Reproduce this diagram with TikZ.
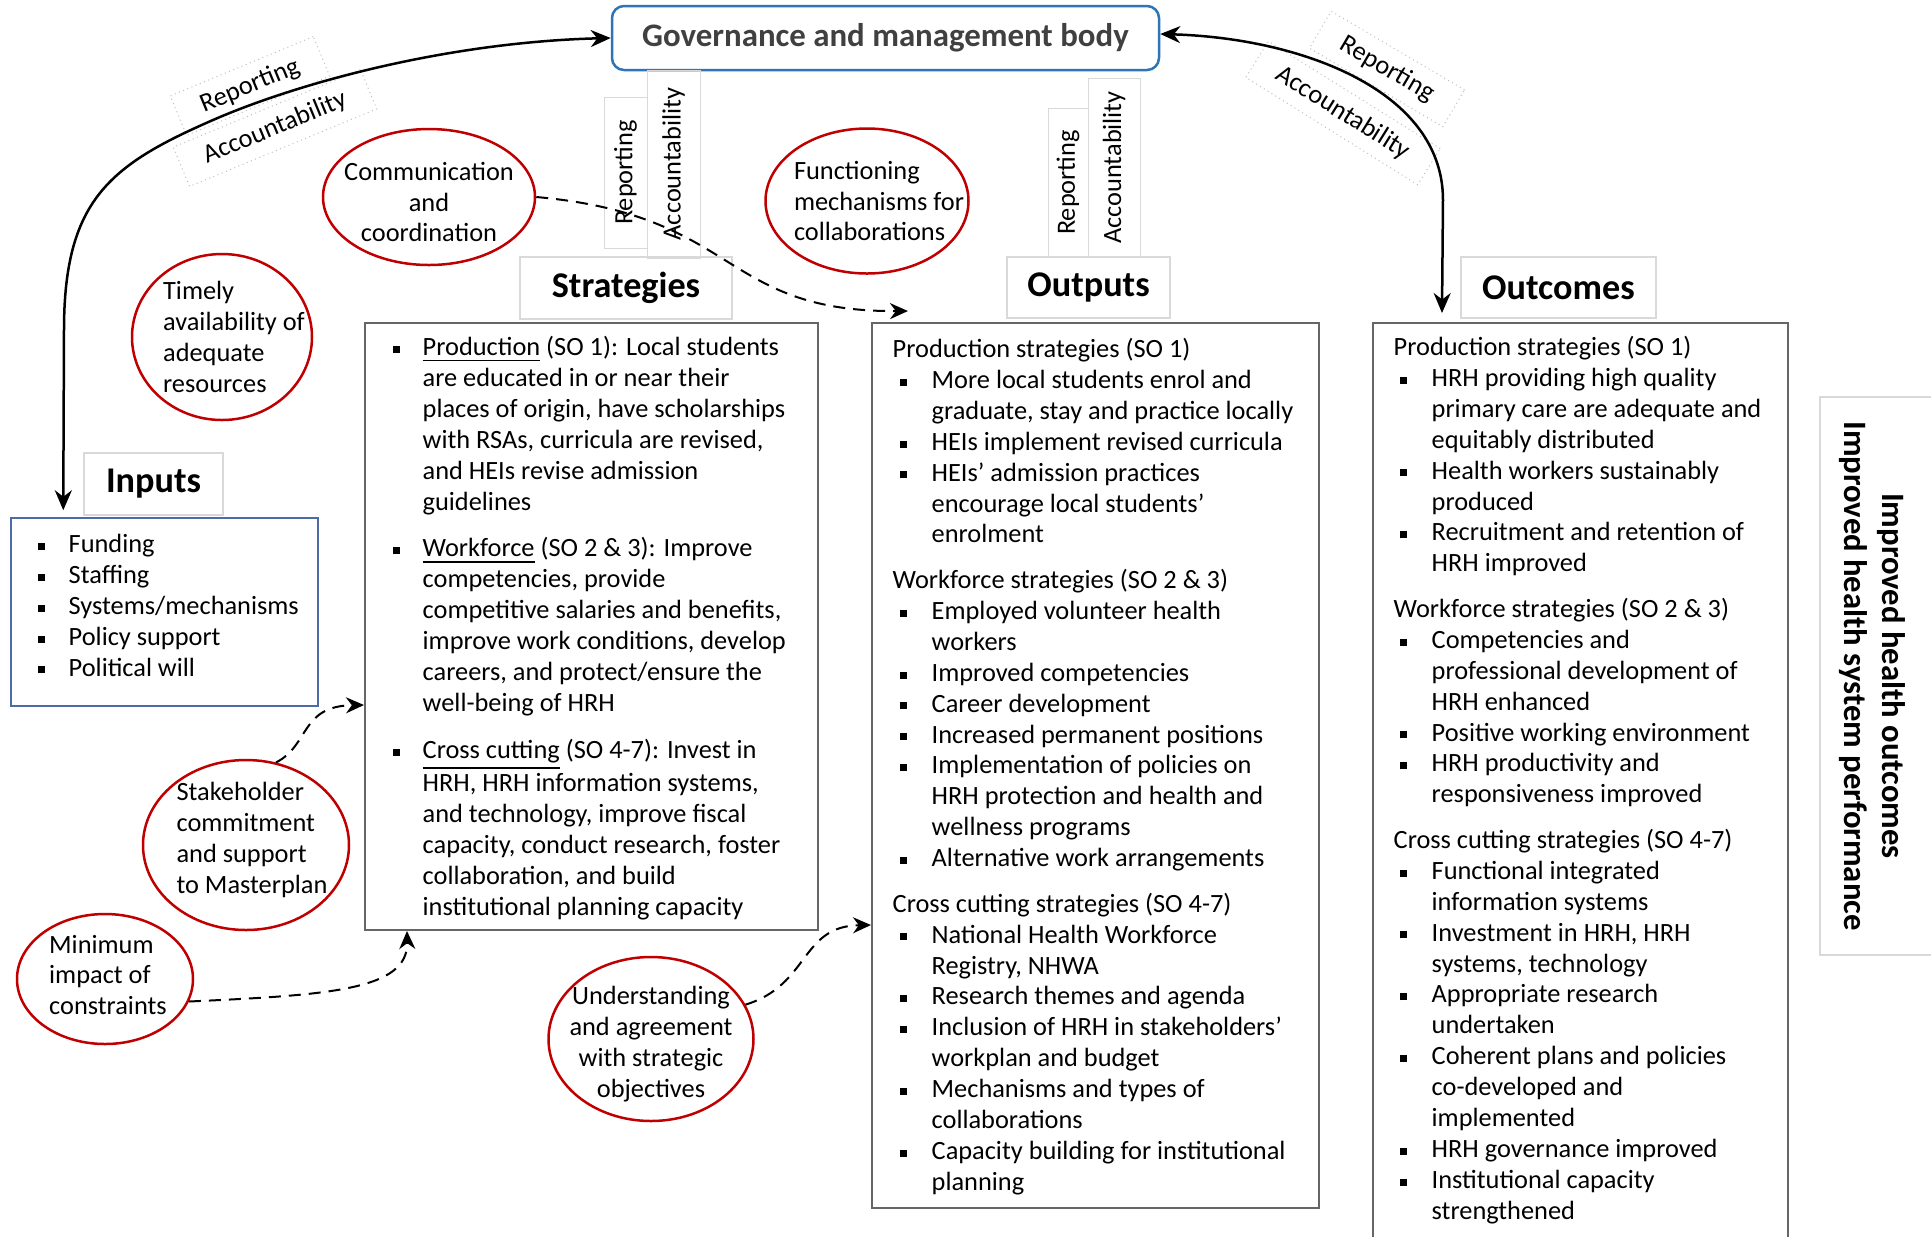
\documentclass[tikz,border=0pt]{standalone}
\usepackage{fontspec}
\setmainfont{Carlito}
\usetikzlibrary{arrows.meta,shapes.geometric}
\definecolor{govblue}{HTML}{2E75B6}
\definecolor{ovalred}{HTML}{C00000}
\definecolor{inpblue}{HTML}{4F6BA5}
\newcommand{\bodyfont}{\fontsize{7.5}{8.8}\selectfont}
\newcommand{\bsq}{\rule[0.75pt]{0.7mm}{0.7mm}}

\begin{document}
\begin{tikzpicture}[x=0.1mm,y=-0.1mm,
  every node/.style={font=\bodyfont, inner sep=0pt},
  panel/.style={draw=black!60, line width=0.2mm},
  heading/.style={draw=black!15, line width=0.12mm, font=\fontsize{10.3}{12}\selectfont\bfseries},
  oval/.style={ellipse, draw=ovalred, line width=0.25mm},
  tag/.style={draw=black!15, line width=0.1mm, rotate=90},
  arctag/.style={draw=black!25, densely dotted, line width=0.1mm, inner xsep=2.5mm, inner ysep=1mm},
  link/.style={line width=0.25mm, {Stealth[length=2mm,width=1.7mm]}-{Stealth[length=2mm,width=1.7mm]}},
  hint/.style={line width=0.2mm, dash pattern=on 1.2mm off 0.8mm, -{Stealth[length=1.8mm,width=1.6mm]}},
]
  \path[use as bounding box, fill=white] (0,0) rectangle (1931,1236);

  \node[draw=govblue, line width=0.25mm, rounded corners=1.2mm, minimum width=54.7mm, minimum height=6.4mm,
        text=black!75, font=\fontsize{9.35}{11}\selectfont\bfseries] (gov) at (885.5,38) {Governance and management body};

  \node[heading, minimum width=13.9mm, minimum height=6.2mm] (inplbl) at (153.5,484) {Inputs};
  \node[heading, minimum width=21.2mm, minimum height=6.2mm] (stratlbl) at (626,288) {Strategies};
  \node[heading, minimum width=16.3mm, minimum height=6.1mm] (outplbl) at (1088.5,287.5) {Outputs};
  \node[heading, minimum width=19.5mm, minimum height=6.1mm] (outclbl) at (1558.5,287.5) {Outcomes};

  \node[draw=inpblue, line width=0.15mm, minimum width=30.7mm, minimum height=18.8mm] (inp) at (164.5,612) {};
  \node[panel, minimum width=45.3mm, minimum height=60.7mm] (strat) at (591.5,626.5) {};
  \node[panel, minimum width=44.7mm, minimum height=88.5mm] (outp) at (1095.5,765.5) {};
  \node[panel, minimum width=41.5mm, minimum height=92.7mm] (outc) at (1580.5,786.5) {};
  \node[draw=black!15, line width=0.12mm, minimum width=12.5mm, minimum height=55.8mm] (perfbox) at (1882.5,676) {};
  \node[rotate=-90, align=center, font=\fontsize{9.3}{10.8}\selectfont\bfseries] (perf) at (1872,676)
       {Improved health outcomes\\Improved health system performance};

  \node[anchor=north west] (inptxt) at (37,530) {\begin{tabular}{@{}p{3.1mm}@{}l@{}}
    \bsq & Funding\\
    \bsq & Staffing\\
    \bsq & Systems/mechanisms\\
    \bsq & Policy support\\
    \bsq & Political will
  \end{tabular}};

  \node[anchor=north west] (strattxt) at (392,333) {\begin{tabular}{@{}p{3mm}@{}l@{}}
    \bsq & \underline{Production} (SO 1): Local students\\
         & are educated in or near their\\
         & places of origin, have scholarships\\
         & with RSAs, curricula are revised,\\
         & and HEIs revise admission\\
         & guidelines\\[1.6mm]
    \bsq & \underline{Workforce} (SO 2 \& 3): Improve\\
         & competencies, provide\\
         & competitive salaries and benefits,\\
         & improve work conditions, develop\\
         & careers, and protect/ensure the\\
         & well-being of HRH\\[1.6mm]
    \bsq & \underline{Cross cutting} (SO 4-7): Invest in\\
         & HRH, HRH information systems,\\
         & and technology, improve fiscal\\
         & capacity, conduct research, foster\\
         & collaboration, and build\\
         & institutional planning capacity
  \end{tabular}};

  \node[anchor=north west] (outptxt) at (892,335) {\begin{tabular}{@{}p{3.9mm}@{}l@{}}
    \multicolumn{2}{@{}l@{}}{Production strategies (SO 1)}\\
    \hspace*{0.7mm}\bsq & More local students enrol and\\
         & graduate, stay and practice locally\\
    \hspace*{0.7mm}\bsq & HEIs implement revised curricula\\
    \hspace*{0.7mm}\bsq & HEIs' admission practices\\
         & encourage local students'\\
         & enrolment\\[1.45mm]
    \multicolumn{2}{@{}l@{}}{Workforce strategies (SO 2 \& 3)}\\
    \hspace*{0.7mm}\bsq & Employed volunteer health\\
         & workers\\
    \hspace*{0.7mm}\bsq & Improved competencies\\
    \hspace*{0.7mm}\bsq & Career development\\
    \hspace*{0.7mm}\bsq & Increased permanent positions\\
    \hspace*{0.7mm}\bsq & Implementation of policies on\\
         & HRH protection and health and\\
         & wellness programs\\
    \hspace*{0.7mm}\bsq & Alternative work arrangements\\[1.45mm]
    \multicolumn{2}{@{}l@{}}{Cross cutting strategies (SO 4-7)}\\
    \hspace*{0.7mm}\bsq & National Health Workforce\\
         & Registry, NHWA\\
    \hspace*{0.7mm}\bsq & Research themes and agenda\\
    \hspace*{0.7mm}\bsq & Inclusion of HRH in stakeholders'\\
         & workplan and budget\\
    \hspace*{0.7mm}\bsq & Mechanisms and types of\\
         & collaborations\\
    \hspace*{0.7mm}\bsq & Capacity building for institutional\\
         & planning
  \end{tabular}};

  \node[anchor=north west] (outctxt) at (1393,333) {\begin{tabular}{@{}p{3.8mm}@{}l@{}}
    \multicolumn{2}{@{}l@{}}{Production strategies (SO 1)}\\
    \hspace*{0.6mm}\bsq & HRH providing high quality\\
         & primary care are adequate and\\
         & equitably distributed\\
    \hspace*{0.6mm}\bsq & Health workers sustainably\\
         & produced\\
    \hspace*{0.6mm}\bsq & Recruitment and retention of\\
         & HRH improved\\[1.45mm]
    \multicolumn{2}{@{}l@{}}{Workforce strategies (SO 2 \& 3)}\\
    \hspace*{0.6mm}\bsq & Competencies and\\
         & professional development of\\
         & HRH enhanced\\
    \hspace*{0.6mm}\bsq & Positive working environment\\
    \hspace*{0.6mm}\bsq & HRH productivity and\\
         & responsiveness improved\\[1.45mm]
    \multicolumn{2}{@{}l@{}}{Cross cutting strategies (SO 4-7)}\\
    \hspace*{0.6mm}\bsq & Functional integrated\\
         & information systems\\
    \hspace*{0.6mm}\bsq & Investment in HRH, HRH\\
         & systems, technology\\
    \hspace*{0.6mm}\bsq & Appropriate research\\
         & undertaken\\
    \hspace*{0.6mm}\bsq & Coherent plans and policies\\
         & co-developed and\\
         & implemented\\
    \hspace*{0.6mm}\bsq & HRH governance improved\\
    \hspace*{0.6mm}\bsq & Institutional capacity\\
         & strengthened
  \end{tabular}};

  \node[oval, minimum width=21.2mm, minimum height=13.6mm,
        label={[yshift=-0.5mm,align=center]center:{Communication\\and\\coordination}}] (comm) at (429,197) {};
  \node[oval, minimum width=20.3mm, minimum height=14.5mm,
        label={[xshift=1.2mm,align=left]center:{Functioning\\mechanisms for\\collaborations}}] (func) at (867,201) {};
  \node[oval, minimum width=18mm, minimum height=16.6mm,
        label={[xshift=1.2mm,align=left]center:{Timely\\availability of\\adequate\\resources}}] (timely) at (222,337) {};
  \node[oval, minimum width=20.6mm, minimum height=17mm,
        label={[xshift=0.6mm,yshift=0.5mm,align=left]center:{Stakeholder\\commitment\\and support\\to Masterplan}}] (stake) at (246,845) {};
  \node[oval, minimum width=17.6mm, minimum height=13mm,
        label={[xshift=0.3mm,yshift=0.4mm,align=left]center:{Minimum\\impact of\\constraints}}] (mini) at (105,979) {};
  \node[oval, minimum width=20.5mm, minimum height=16.4mm,
        label={[yshift=-0.5mm,align=center]center:{Understanding\\and agreement\\with strategic\\objectives}}] (under) at (651,1039) {};

  \node[tag, minimum width=15.1mm, minimum height=4.3mm] (rep1) at (625.5,172.5) {Reporting};
  \node[tag, minimum width=18.8mm, minimum height=5.3mm] (acc1) at (673.5,164) {Accountability};
  \node[tag, minimum width=14.9mm, minimum height=4mm] (rep2) at (1068,182.5) {Reporting};
  \node[tag, minimum width=17.9mm, minimum height=5.2mm] (acc2) at (1114,167.5) {Accountability};
  \node[arctag, rotate=22.5] (rep3) at (250,86) {Reporting};
  \node[arctag, rotate=22.5] (acc3) at (275,128) {Accountability};
  \node[arctag, rotate=-30.5] (rep4) at (1387,69) {Reporting};
  \node[arctag, rotate=-32] (acc4) at (1343,113) {Accountability};

  \draw[link] ([xshift=5.3mm,yshift=0.7mm]inp.north west) -- (64,330)
        .. controls (64,200) and (110,165) .. (213,120)
        .. controls (300,82) and (450,42) .. (gov.west);
  \draw[link] ([yshift=0.4mm]gov.east) .. controls (1300,38) and (1443,90) .. (1443,200)
        -- ([xshift=7mm,yshift=0.9mm]outc.north west);

  \draw[hint] (comm.east) .. controls (740,215) and (720,312) .. ([xshift=3.7mm,yshift=1.1mm]outp.north west);
  \draw[hint] (stake.70) .. controls (310,745) and (300,706) .. ([yshift=-38.3mm]strat.north west);
  \draw[hint] (mini.-15) .. controls (330,995) and (408,990) .. ([xshift=4.3mm]strat.south west);
  \draw[hint] (under.20) .. controls (810,985) and (800,926) .. ([yshift=-60.3mm]outp.north west);
\end{tikzpicture}
\end{document}
